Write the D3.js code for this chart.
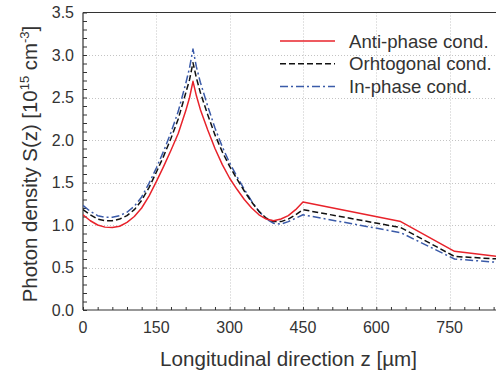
<!DOCTYPE html>
<html>
<head>
<meta charset="utf-8">
<script src="https://cdn.jsdelivr.net/npm/d3@7"></script>
<style>
  body { margin: 0; background: #fff; }
  svg { display: block; font-family: "Liberation Sans", Arial, sans-serif; }
</style>
</head>
<body>
<svg id="chart" width="496" height="377"></svg>
<script>
// data
var zPos = [0, 15, 30, 45, 60, 75, 90, 105, 120, 135, 150, 165, 180, 195, 210, 218, 225, 232, 240, 255, 270, 285, 300, 315, 330, 345, 360, 375, 390, 405, 420, 435, 450, 650, 760, 850];
var antiPhase = [1.12, 1.05, 1.00, 0.975, 0.97, 0.985, 1.03, 1.10, 1.20, 1.34, 1.51, 1.69, 1.88, 2.08, 2.34, 2.50, 2.69, 2.52, 2.36, 2.12, 1.90, 1.71, 1.55, 1.42, 1.30, 1.20, 1.12, 1.07, 1.05, 1.07, 1.11, 1.18, 1.27, 1.04, 0.69, 0.63];
var orthogonal = [1.18, 1.12, 1.07, 1.05, 1.05, 1.07, 1.11, 1.18, 1.29, 1.44, 1.62, 1.81, 2.02, 2.25, 2.55, 2.71, 2.91, 2.73, 2.56, 2.30, 2.06, 1.86, 1.69, 1.54, 1.40, 1.27, 1.16, 1.08, 1.04, 1.04, 1.07, 1.12, 1.18, 0.97, 0.63, 0.60];
var inPhase = [1.23, 1.16, 1.11, 1.09, 1.09, 1.11, 1.15, 1.22, 1.33, 1.49, 1.67, 1.87, 2.09, 2.34, 2.66, 2.85, 3.07, 2.86, 2.68, 2.40, 2.14, 1.92, 1.73, 1.57, 1.42, 1.28, 1.16, 1.07, 1.02, 1.01, 1.04, 1.08, 1.12, 0.91, 0.60, 0.56];
var seriesNames = ["Anti-phase cond.", "Orhtogonal cond.", "In-phase cond."];
var xTicks = [0, 150, 300, 450, 600, 750];
var yTicks = [0, 0.5, 1.0, 1.5, 2.0, 2.5, 3.0, 3.5];

var svg = d3.select("#chart");
var pLeft = 83, pRight = 498.5, pTop = 12.5, pBottom = 310;

var x = d3.scaleLinear().domain([0, 850]).range([pLeft, pRight]);
var y = d3.scaleLinear().domain([0, 3.5]).range([pBottom, pTop]);

svg.append("defs").append("clipPath").attr("id", "plotclip")
  .append("rect").attr("x", pLeft).attr("y", pTop).attr("width", pRight - pLeft).attr("height", pBottom - pTop);

// dotted grid
var grid = svg.append("g").attr("stroke", "#c4c4c4").attr("stroke-width", 1).attr("stroke-dasharray", "1,2");
grid.selectAll(".gx").data(xTicks.slice(1)).enter().append("line")
  .attr("x1", function(d) { return Math.round(x(d)) + 0.5; })
  .attr("x2", function(d) { return Math.round(x(d)) + 0.5; })
  .attr("y1", pTop).attr("y2", pBottom);
grid.selectAll(".gy").data(yTicks.slice(1, -1)).enter().append("line")
  .attr("y1", function(d) { return Math.round(y(d)) + 0.5; })
  .attr("y2", function(d) { return Math.round(y(d)) + 0.5; })
  .attr("x1", pLeft).attr("x2", 496);

// axes, ticks pointing inward
var xAxis = d3.axisTop(x).tickValues(d3.range(0, 851, 30)).tickSize(3).tickFormat("");
var yAxis = d3.axisRight(y).tickValues(d3.range(0, 3.51, 0.1)).tickSize(4).tickFormat("");

svg.append("g").attr("transform", "translate(0," + pBottom + ")").call(xAxis)
  .call(function(g) { g.select(".domain").remove(); g.selectAll("line").attr("stroke", "#333"); });
svg.append("g").attr("transform", "translate(" + pLeft + ",0)").call(yAxis)
  .call(function(g) { g.select(".domain").remove(); g.selectAll("line").attr("stroke", "#333"); });

svg.append("line").attr("x1", pLeft).attr("x2", pLeft).attr("y1", pTop).attr("y2", pBottom).attr("stroke", "#333").attr("stroke-width", 1.2);
svg.append("line").attr("x1", pLeft).attr("x2", 496).attr("y1", pBottom).attr("y2", pBottom).attr("stroke", "#333").attr("stroke-width", 1.2);
svg.append("line").attr("x1", pLeft).attr("x2", 496).attr("y1", pTop).attr("y2", pTop).attr("stroke", "#333").attr("stroke-width", 1.2);

// tick labels
svg.selectAll(".xl").data(xTicks).enter().append("text")
  .attr("x", function(d) { return x(d); }).attr("y", 333)
  .attr("text-anchor", "middle").attr("font-size", 16).attr("fill", "#333")
  .text(function(d) { return d; });
svg.selectAll(".yl").data(yTicks).enter().append("text")
  .attr("x", 74).attr("y", function(d) { return y(d) + 5.5; })
  .attr("text-anchor", "end").attr("font-size", 16).attr("fill", "#333")
  .text(function(d) { return d.toFixed(1); });

// axis titles
svg.append("text").attr("x", 288.5).attr("y", 366).attr("text-anchor", "middle")
  .attr("font-size", 20.6).attr("fill", "#333").text("Longitudinal direction z [\u00b5m]");

var yt = svg.append("text").attr("transform", "translate(37,164) rotate(-90)")
  .attr("text-anchor", "middle").attr("font-size", 20.4).attr("fill", "#333");
yt.append("tspan").text("Photon density S(z) [10");
yt.append("tspan").attr("font-size", 13).attr("dy", -8).text("15");
yt.append("tspan").attr("dy", 8).text(" cm");
yt.append("tspan").attr("font-size", 13).attr("dy", -8).text("-3");
yt.append("tspan").attr("dy", 8).text("]");

// curves
var styles = [
  { vals: antiPhase, color: "#e8232b", dash: null },
  { vals: orthogonal, color: "#111111", dash: "6,3" },
  { vals: inPhase, color: "#3b5ba9", dash: "8,3,2,3" }
];

var line = d3.line()
  .x(function(d) { return x(d[0]); })
  .y(function(d) { return y(d[1]); });

var plot = svg.append("g").attr("clip-path", "url(#plotclip)");
styles.slice().reverse().forEach(function(s) {
  plot.append("path")
    .datum(d3.zip(zPos, s.vals))
    .attr("fill", "none")
    .attr("stroke", s.color)
    .attr("stroke-width", 1.5)
    .attr("stroke-dasharray", s.dash)
    .attr("stroke-linejoin", "round")
    .attr("d", line);
});

// legend
var legend = svg.append("g");
styles.forEach(function(s, i) {
  var ly = 41 + i * 22.7;
  legend.append("line").attr("x1", 280).attr("x2", 335).attr("y1", ly).attr("y2", ly)
    .attr("stroke", s.color).attr("stroke-width", 1.5).attr("stroke-dasharray", s.dash);
  legend.append("text").attr("x", 349).attr("y", ly + 6.5)
    .attr("font-size", 18.6).attr("fill", "#333").text(seriesNames[i]);
});
</script>
</body>
</html>
